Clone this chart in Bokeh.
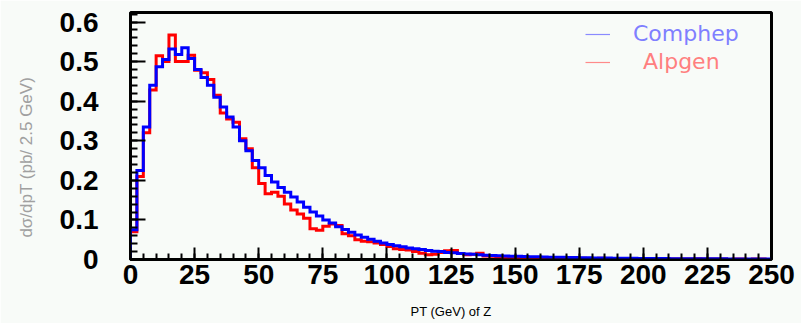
import numpy as np
from bokeh.plotting import figure
from bokeh.models import (Range1d, SingleIntervalTicker, Legend, LegendItem,
                          CustomJSTickFormatter)
from bokeh.embed import file_html
from bokeh.resources import INLINE

# ---- data ----
bin_width = 2.5
pt_start, pt_end = 0, 250
y_top = 0.624

comphep = [
    0.075, 0.225, 0.335, 0.44, 0.487, 0.505, 0.532, 0.518, 0.535, 0.508,
    0.48, 0.46, 0.44, 0.41, 0.385, 0.36, 0.335, 0.30, 0.275, 0.25,
    0.232, 0.212, 0.196, 0.182, 0.17, 0.158, 0.145, 0.132, 0.12, 0.11,
    0.10, 0.092, 0.083, 0.076, 0.069, 0.062, 0.056, 0.051, 0.046, 0.042,
    0.038, 0.035, 0.032, 0.029, 0.027, 0.025, 0.023, 0.021, 0.020, 0.018,
    0.017, 0.015, 0.014, 0.013, 0.012, 0.011, 0.010, 0.0095, 0.009, 0.0085,
    0.008, 0.0075, 0.007, 0.0068, 0.0064, 0.006, 0.0057, 0.0054, 0.005, 0.0048,
    0.0045, 0.0043, 0.004, 0.0038, 0.0036, 0.0034, 0.0032, 0.003, 0.0029, 0.0028,
    0.0026, 0.0025, 0.0024, 0.0023, 0.0022, 0.0021, 0.002, 0.0019, 0.0018, 0.0018,
    0.0017, 0.0016, 0.0016, 0.0015, 0.0014, 0.0014, 0.0013, 0.0013, 0.0012, 0.0012,
]

alpgen = [
    0.07, 0.21, 0.32, 0.428, 0.515, 0.50, 0.567, 0.50, 0.50, 0.516,
    0.478, 0.472, 0.455, 0.415, 0.37, 0.355, 0.347, 0.305, 0.28, 0.232,
    0.192, 0.166, 0.17, 0.16, 0.14, 0.125, 0.115, 0.104, 0.078, 0.074,
    0.084, 0.09, 0.086, 0.065, 0.06, 0.05, 0.046, 0.045, 0.042, 0.038,
    0.033, 0.027, 0.025, 0.024, 0.02, 0.016, 0.012, 0.013, 0.018, 0.022,
    0.023, 0.015, 0.012, 0.013, 0.016, 0.009, 0.008, 0.007, 0.006, 0.006,
    0.005, 0.005, 0.004, 0.005, 0.004, 0.003, 0.004, 0.003, 0.003, 0.002,
    0.003, 0.002, 0.002, 0.003, 0.002, 0.002, 0.001, 0.002, 0.002, 0.001,
    0.002, 0.001, 0.001, 0.002, 0.001, 0.001, 0.001, 0.001, 0.002, 0.001,
    0.001, 0.001, 0.001, 0.0, 0.001, 0.001, 0.0, 0.001, 0.001, 0.0,
]

series_names = ["Comphep", "Alpgen"]
x_title = "PT (GeV) of Z"
y_title = "dσ/dpT (pb/ 2.5 GeV)"

# ---- styling ----
bg = "#f8fbf8"
edges = pt_start + np.arange(len(comphep) + 1) * bin_width


def step_xy(vals):
    v = np.asarray(vals, dtype=float)
    xs = np.repeat(edges, 2)
    ys = np.concatenate([[0.0], np.repeat(v, 2), [0.0]])
    return xs, ys


p = figure(width=801, height=323,
           x_range=Range1d(pt_start, pt_end), y_range=Range1d(0, y_top),
           output_backend="svg", toolbar_location=None,
           min_border_left=130, min_border_right=30,
           min_border_top=12, min_border_bottom=64,
           background_fill_color=bg, border_fill_color=bg,
           outline_line_color="black", outline_line_width=3)
p.grid.visible = False

xr, yr = step_xy(alpgen)
p.line(xr, yr, line_color="#ff0000", line_width=3, line_join="miter")
xb, yb = step_xy(comphep)
p.line(xb, yb, line_color="#0000ff", line_width=3, line_join="miter")

# axes
xa = p.xaxis[0]
xa.ticker = SingleIntervalTicker(interval=25, num_minor_ticks=5)
ya = p.yaxis[0]
ya.ticker = SingleIntervalTicker(interval=0.1, num_minor_ticks=5)
ya.formatter = CustomJSTickFormatter(code="return tick.toFixed(1).replace(/^0\\.0$/, '0');")

for ax in (xa, ya):
    ax.axis_line_color = "black"
    ax.axis_line_width = 2
    ax.major_tick_out = 0
    ax.minor_tick_out = 0
    ax.major_tick_line_width = 2
    ax.minor_tick_line_width = 2
    ax.major_tick_line_color = "black"
    ax.minor_tick_line_color = "black"
    ax.major_label_text_font = "Liberation Sans"
    ax.major_label_text_font_style = "bold"
    ax.major_label_text_font_size = "28px"
    ax.major_label_text_color = "black"

xa.major_tick_in = 12
xa.minor_tick_in = 6
ya.major_tick_in = 15
ya.minor_tick_in = 7
xa.major_label_standoff = 5
ya.major_label_standoff = 32

xa.axis_label = x_title
xa.axis_label_text_font = "Liberation Sans"
xa.axis_label_text_font_style = "normal"
xa.axis_label_text_font_size = "13px"
xa.axis_label_text_color = "black"
xa.axis_label_standoff = 17

# y title: trailing no-break spaces move the visible text below the frame centre
ya.axis_label = y_title + "\u00a0" * 9
ya.axis_label_text_font = "Liberation Sans"
ya.axis_label_text_font_style = "normal"
ya.axis_label_text_font_size = "17px"
ya.axis_label_text_color = "#a0a0a0"
ya.axis_label_standoff = 21

# legend (two, so that each label keeps its own colour)
lb = p.line(x=[np.nan], y=[np.nan], line_color="#8a8aff", line_width=1.2)
lr = p.line(x=[np.nan], y=[np.nan], line_color="#ff8a8a", line_width=1.2)
for name, rend, col, loc, standoff in [
        (series_names[0], lb, "#7f7fff", (455, 213), 23),
        (series_names[1], lr, "#ff7f7f", (455, 185), 33)]:
    lg = Legend(items=[LegendItem(label=name, renderers=[rend])], location=loc,
                glyph_width=25, glyph_height=20, label_standoff=standoff,
                padding=0, margin=0, spacing=0, label_height=20,
                border_line_alpha=0, background_fill_alpha=0,
                label_text_font="DejaVu Sans", label_text_font_size="22px",
                label_text_color=col)
    p.add_layout(lg)

open("out.html", "w").write(file_html(p, INLINE))
